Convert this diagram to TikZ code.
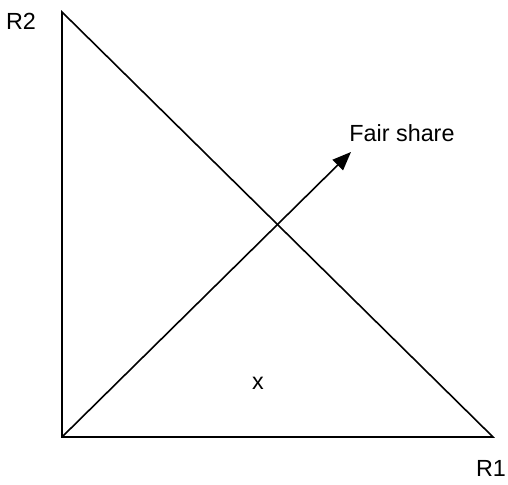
\documentclass[tikz,border=0pt]{standalone}
\usepackage{fontspec}
\setmainfont{Liberation Sans}
\usetikzlibrary{arrows.meta}
\tikzset{
lbl/.style={font=\fontsize{17.5}{21}\selectfont, inner sep=0pt},
side/.style={line width=1.2pt, line join=miter},
arr/.style={-{Triangle[length=14pt, width=11pt]}, line width=1.2pt}
}

\begin{document}
\begin{tikzpicture}[x=0.75pt, y=-0.75pt]
\useasboundingbox (0,0) rectangle (508,485);
\coordinate (top) at (62,12);
\coordinate (origin) at (62,437);
\coordinate (right) at (493,437);
\coordinate (tip) at (351,152);
\node[lbl] (r2) at (21,21) {R2};
\node[lbl] (r1) at (491,468) {R1};
\node[lbl] (fair) at (402,133) {Fair share};
\node[lbl] (pt) at (258,383) {x};
\draw[side] (top) -- (origin) -- (right) -- cycle;
\draw[arr] (origin) -- (tip);
\end{tikzpicture}
\end{document}
